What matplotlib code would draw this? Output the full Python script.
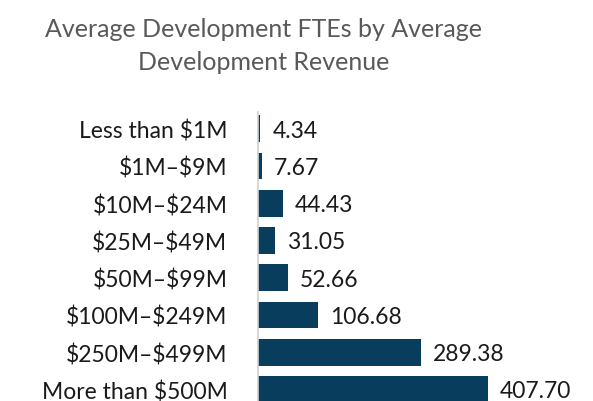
import matplotlib.pyplot as plt

categorias = ["Less than \\$1M", "\\$1M\u2013\\$9M", "\\$10M\u2013\\$24M", "\\$25M\u2013\\$49M",
              "\\$50M\u2013\\$99M", "\\$100M\u2013\\$249M", "\\$250M\u2013\\$499M", "More than \\$500M"]
ftes = [4.34, 7.67, 44.43, 31.05, 52.66, 106.68, 289.38, 407.70]
etiquetas = ["4.34", "7.67", "44.43", "31.05", "52.66", "106.68", "289.38", "407.70"]

plt.rcParams["font.family"] = ["Lato", "DejaVu Sans"]
fig = plt.figure(figsize=(5.93, 4.02), dpi=100)
ax = fig.add_axes([0.435, 0.0, 0.565, 0.719])

pos = list(range(len(categorias)))
ax.barh(pos, ftes, height=0.72, color="#083d5e")
for p, v, t in zip(pos, ftes, etiquetas):
    ax.text(v + 21, p + 0.04, t, va="center", ha="left", fontsize=16.5, color="#1a1a1a")

ax.set_xlim(0, 594)
ax.set_ylim(7.31, -0.45)
ax.set_yticks(pos)
ax.set_yticklabels(categorias, fontsize=16.5, color="#1a1a1a")
ax.tick_params(axis="y", length=0, pad=22)
ax.set_xticks([])
for s in ["top", "right", "bottom"]:
    ax.spines[s].set_visible(False)
ax.spines["left"].set_color("#d0d0d0")
ax.spines["left"].set_linewidth(1.2)

fig.text(0.445, 0.885, "Average Development FTEs by Average\nDevelopment Revenue",
         ha="center", va="center", fontsize=18, color="#595959", linespacing=1.55)

fig.savefig("out.png", dpi=100)
